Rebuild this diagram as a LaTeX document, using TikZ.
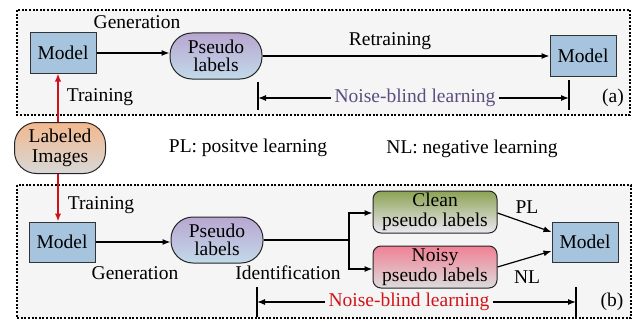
\documentclass[tikz,border=0pt]{standalone}
\usepackage{fontspec}
\setmainfont{Liberation Serif}
\newfontfamily\figfont{Liberation Serif}
\usetikzlibrary{arrows.meta}
\definecolor{modelblue}{HTML}{A6C4DE}
\definecolor{panelgray}{HTML}{F5F5F5}
\definecolor{nbpurple}{HTML}{5B4E7E}
\definecolor{nbred}{HTML}{D01418}
\definecolor{arrred}{HTML}{D0101A}
\definecolor{pstop}{RGB}{184,166,208}
\definecolor{psbot}{RGB}{194,218,234}
\definecolor{cltop}{RGB}{140,163,84}
\definecolor{clbot}{RGB}{236,232,244}
\definecolor{notop}{RGB}{240,128,148}
\definecolor{nobot}{RGB}{220,220,220}
\definecolor{labtop}{RGB}{242,184,140}
\definecolor{labbot}{RGB}{216,216,216}
\tikzset{
  every node/.style={font=\figfont\fontsize{19.5}{19.5}\selectfont},
  panel/.style={draw=black, line width=1.4pt, dash pattern=on 2pt off 1.6pt, fill=panelgray},
  modelbox/.style={draw=black!80, line width=1pt, fill=modelblue, minimum width=66pt, minimum height=40pt, inner sep=0pt},
  pseudobox/.style={draw=black!85, line width=1pt, rounded corners=22pt, top color=pstop, bottom color=psbot, minimum width=92pt, minimum height=46pt, inner sep=0pt, align=center, font=\figfont\fontsize{19.5}{18.5}\selectfont},
  labbox/.style={draw=black!85, line width=1pt, rounded corners=22pt, top color=labtop, bottom color=labbot, minimum width=91pt, minimum height=51pt, inner sep=0pt, align=center},
  plbox/.style={draw=black!85, line width=1pt, rounded corners=8pt, minimum width=124pt, minimum height=42pt, inner sep=0pt, align=center},
  conn/.style={line width=1.2pt, -{Latex[length=8pt,width=6pt]}},
  redconn/.style={line width=1.8pt, draw=arrred, -{Latex[length=8pt,width=6.5pt]}},
  plain/.style={line width=1.2pt},
  bar/.style={line width=1.4pt}
}
\begin{document}
\begin{tikzpicture}[x=1pt,y=-1pt]
\useasboundingbox (0,0) rectangle (636,321);
% panels
\draw[panel] (17,10) rectangle (630,115);
\draw[panel] (17,185) rectangle (631,318);

% ---------- panel (a)
\node[modelbox] (ma) at (63,53) {Model};
\node[pseudobox] (pa) at (216,56) {Pseudo\\labels};
\node[modelbox] (ma2) at (583,56) {Model};
\draw[conn] (ma.east |- 0,53) -- (pa.west |- 0,53);
\draw[conn] (pa.east) -- (ma2.west);
\node (gena) at (137,22) {Generation};
\node (reta) at (390,41) {Retraining};
\node (traina) at (100,97) {Training};
\node[text=nbpurple] (nba) at (415,98) {Noise-blind learning};
\coordinate (ba1t) at (258,82); \coordinate (ba1b) at (258,110);
\coordinate (ba2t) at (569,80); \coordinate (ba2b) at (569,110);
\draw[bar] (ba1t) -- (ba1b);
\draw[bar] (ba2t) -- (ba2b);
\draw[conn] (nba.west) -- (nba.west -| ba1t);
\draw[conn] (nba.east) -- (nba.east -| ba2t);
\node (taga) at (613,98) {(a)};

% ---------- middle
\node[labbox] (lab) at (60,148) {Labeled\\Images};
\node (pl) at (248,148) {PL: positve learning};
\node (nl) at (472,149) {NL: negative learning};
\draw[redconn] (lab.north -| 58,0) -- (ma.south -| 58,0);

% ---------- panel (b)
\node[modelbox] (mb) at (62,242) {Model};
\node[pseudobox] (pb) at (217,240) {Pseudo\\labels};
\draw[redconn] (lab.south -| 58,0) -- (mb.north -| 58,0);
\node (trainb) at (101,205) {Training};
\draw[conn] (mb.east |- 0,242) -- (pb.west |- 0,242);
\node (genb) at (135,273) {Generation};
\node (idb) at (288,273) {Identification};

\node[plbox, top color=cltop, bottom color=clbot] (clean) at (435,212) {Clean\\pseudo labels};
\node[plbox, top color=notop, bottom color=nobot] (noisy) at (435,267) {Noisy\\pseudo labels};
\node[modelbox] (mb2) at (585,242) {Model};
\coordinate (jn) at (349,240);
\draw[plain] (pb.east) -- (jn);
\draw[conn] (jn) |- (clean.west |- 0,213);
\draw[conn] (jn) |- (noisy.west |- 0,269);
\draw[conn] (clean.east |- 0,213) -- (mb2.west |- 0,232);
\draw[conn] (noisy.east |- 0,267) -- (mb2.west |- 0,251);
\node (plb) at (527,207) {PL};
\node (nlb) at (527,277) {NL};

\node[text=nbred] (nbb) at (409,302) {Noise-blind learning};
\coordinate (bb1t) at (257,287); \coordinate (bb1b) at (257,317);
\coordinate (bb2t) at (576,287); \coordinate (bb2b) at (576,317);
\draw[bar] (bb1t) -- (bb1b);
\draw[bar] (bb2t) -- (bb2b);
\draw[conn] (nbb.west) -- (nbb.west -| bb1t);
\draw[conn] (nbb.east) -- (nbb.east -| bb2t);
\node (tagb) at (612,302) {(b)};
\end{tikzpicture}
\end{document}
